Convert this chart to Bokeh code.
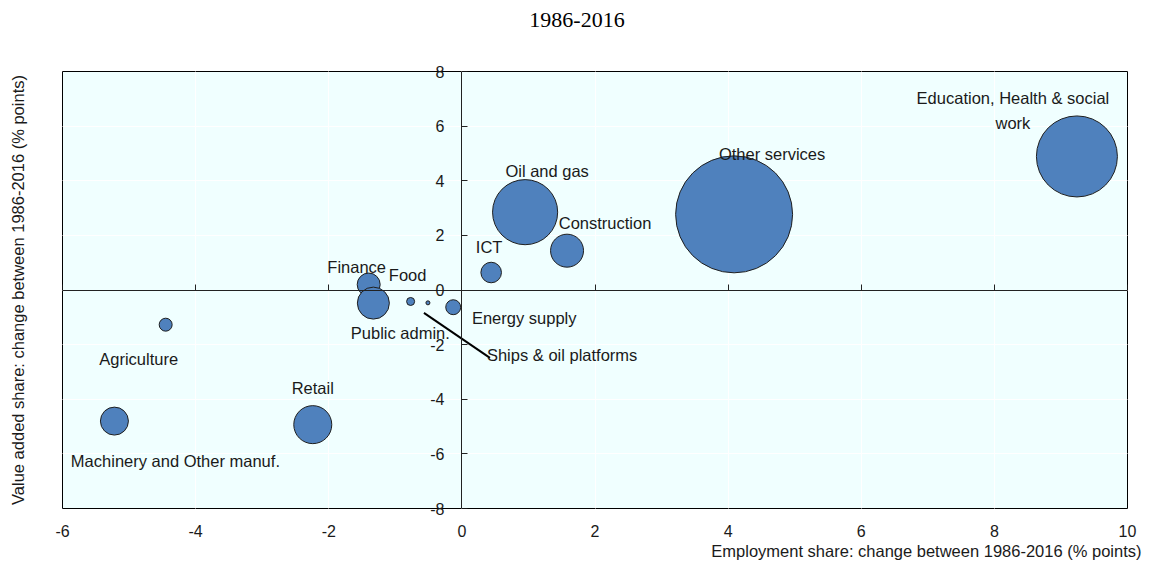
from bokeh.plotting import figure
from bokeh.models import (ColumnDataSource, LinearAxis, FixedTicker, Grid, Title)
from bokeh.core.properties import value
from bokeh.embed import file_html
from bokeh.resources import INLINE
import math

# ---------------- data ----------------
sectors = ["Education, Health & social work", "Other services", "Oil and gas",
           "Construction", "ICT", "Finance", "Food", "Ships & oil platforms",
           "Energy supply", "Public admin.", "Agriculture", "Retail",
           "Machinery and Other manuf."]
emp_change = [9.24, 4.09, 0.95, 1.58, 0.44, -1.40, -0.77, -0.51, -0.13, -1.33, -4.45, -2.24, -5.22]
va_change = [4.89, 2.77, 2.85, 1.44, 0.64, 0.20, -0.42, -0.47, -0.63, -0.48, -1.27, -4.93, -4.80]
share_2016 = [16.4, 34.2, 10.6, 2.72, 1.06, 1.32, 0.16, 0.04, 0.56, 2.56, 0.42, 3.61, 1.96]

x_ticks = [-6, -4, -2, 0, 2, 4, 6, 8, 10]
x_tick_labels = ["-6", "-4", "-2", "0", "2", "4", "6", "8", "10"]
y_ticks = [-8, -6, -4, -2, 0, 2, 4, 6, 8]
y_tick_labels = ["-8", "-6", "-4", "-2", "0", "2", "4", "6", "8"]

title_text = "1986-2016"
x_title = "Employment share: change between 1986-2016 (% points)"
y_title = "Value added share: change between 1986-2016 (% points)"

# ---------------- styling ----------------
label_text = {"Education, Health & social work": "Education, Health & social\nwork"}
# label offsets in screen pixels (dx, dy), alignment
label_style = {
    "Education, Health & social work": (-64, -46, "center"),
    "Other services": (38, -60, "center"),
    "Oil and gas": (22, -41, "center"),
    "Construction": (38, -28, "center"),
    "ICT": (-2, -26, "center"),
    "Finance": (-12, -18, "center"),
    "Food": (-3, -26, "center"),
    "Ships & oil platforms": (59, 52, "left"),
    "Energy supply": (71, 11, "center"),
    "Public admin.": (27, 30, "center"),
    "Agriculture": (-27, 34, "center"),
    "Retail": (0, -37, "center"),
    "Machinery and Other manuf.": (61, 40, "center"),
}

FONT_NAME = "Liberation Sans"
FONT = value(FONT_NAME)
TXT = "#1a1a1a"
FS = "16.5px"

ML, MR, MT, MB = 62, 26, 71, 54
frame_w, frame_h = 1065, 437
W = ML + frame_w + MR
H = MT + frame_h + MB

p = figure(width=W, height=H, x_range=(-6, 10), y_range=(-8, 8),
           output_backend="svg", toolbar_location=None,
           x_axis_location=None, y_axis_location=None,
           min_border_left=ML, min_border_right=MR,
           min_border_top=MT, min_border_bottom=MB)
p.background_fill_color = "#F0FFFF"
p.border_fill_color = "white"
p.outline_line_color = "black"
p.outline_line_width = 1

# grids
p.add_layout(Grid(dimension=0, ticker=FixedTicker(ticks=x_ticks), grid_line_color="white", grid_line_width=1))
p.add_layout(Grid(dimension=1, ticker=FixedTicker(ticks=y_ticks), grid_line_color="white", grid_line_width=1))

# bottom axis (labels only)
xb = LinearAxis(ticker=FixedTicker(ticks=x_ticks), major_tick_in=0, major_tick_out=0,
                minor_tick_line_color=None, axis_line_color=None,
                major_label_overrides=dict(zip(x_ticks, x_tick_labels)),
                major_label_standoff=16, major_label_text_font=FONT_NAME,
                major_label_text_font_size="16px", major_label_text_color=TXT)
p.add_layout(xb, "below")

# x title below the tick labels, right-aligned past the frame edge
p.add_layout(Title(text=x_title, align="right", offset=-14, standoff=0,
                   text_font=FONT_NAME, text_font_size="16.5px", text_font_style="normal",
                   text_color=TXT), "below")

# zero-line x axis (line + inward ticks only)
x0 = LinearAxis(fixed_location=0, ticker=FixedTicker(ticks=x_ticks), major_tick_in=6, major_tick_out=0,
                minor_tick_line_color=None, axis_line_color="#222222", major_tick_line_color="#222222",
                major_label_overrides={t: "" for t in x_ticks}, major_label_text_color=None)
p.add_layout(x0, "below")

# zero-line y axis (line + inward ticks only)
y0 = LinearAxis(fixed_location=0, ticker=FixedTicker(ticks=y_ticks), major_tick_in=6, major_tick_out=0,
                minor_tick_line_color=None, axis_line_color="#222222", major_tick_line_color="#222222",
                major_label_overrides={t: "" for t in y_ticks}, major_label_text_color=None)
p.add_layout(y0, "left")

# y title axis (nearest panel on the left)
yt = LinearAxis(ticker=FixedTicker(ticks=[]), axis_line_color=None, major_tick_in=0, major_tick_out=0,
                minor_tick_line_color=None, axis_label=y_title, axis_label_standoff=36,
                axis_label_text_font=FONT_NAME, axis_label_text_font_size="16.5px",
                axis_label_text_font_style="normal", axis_label_text_color=TXT)
p.add_layout(yt, "left")

# y tick labels: an outer left axis whose labels are pushed next to the x=0 line
x_zero_px = ML + frame_w * (0 - (-6)) / 16.0
yt_size = 36 + 18
yl = LinearAxis(ticker=FixedTicker(ticks=y_ticks), axis_line_color=None, major_tick_in=0, major_tick_out=0,
                minor_tick_line_color=None,
                major_label_overrides=dict(zip(y_ticks, y_tick_labels)),
                major_label_standoff=-int(round(x_zero_px - 14 - (ML - yt_size))),
                major_label_text_font=FONT_NAME, major_label_text_font_size="16px",
                major_label_text_color=TXT)
p.add_layout(yl, "left")

# chart title, centred on the page, as the only label of an empty top axis
title_pos = round(-6 + 16.0 * (W / 2.0 - ML) / frame_w, 2)
tt = LinearAxis(ticker=FixedTicker(ticks=[title_pos]), axis_line_color=None,
                major_tick_in=0, major_tick_out=0, minor_tick_line_color=None,
                major_label_overrides={title_pos: title_text}, major_label_standoff=45,
                major_label_text_font="Liberation Serif", major_label_text_font_size="22px",
                major_label_text_color="black")
p.add_layout(tt, "above")

# bubbles
sizes = [20 * math.sqrt(s) for s in share_2016]
src = ColumnDataSource(dict(x=emp_change, y=va_change, size=sizes, name=sectors))
p.scatter("x", "y", size="size", source=src, fill_color="#4F81BD",
          line_color="#1f1f1f", line_width=1)

# leader line for Ships & oil platforms
i = sectors.index("Ships & oil platforms")
px_x = 16 / frame_w
px_y = 16 / frame_h
p.segment(x0=[emp_change[i] - 4 * px_x], y0=[va_change[i] - 10 * px_y],
          x1=[emp_change[i] + 62 * px_x], y1=[va_change[i] - 55 * px_y],
          line_color="black", line_width=2)

# labels
lab = ColumnDataSource(dict(
    x=emp_change, y=va_change,
    text=[label_text.get(s, s) for s in sectors],
    dx=[label_style[s][0] for s in sectors],
    dy=[label_style[s][1] for s in sectors],
    align=[label_style[s][2] for s in sectors],
))
p.text("x", "y", text="text", x_offset="dx", y_offset="dy", text_align="align",
       text_baseline="middle", source=lab, text_font=FONT, text_font_size=FS,
       text_color=TXT, text_line_height=1.4)

open("out.html", "w").write(file_html(p, INLINE))
